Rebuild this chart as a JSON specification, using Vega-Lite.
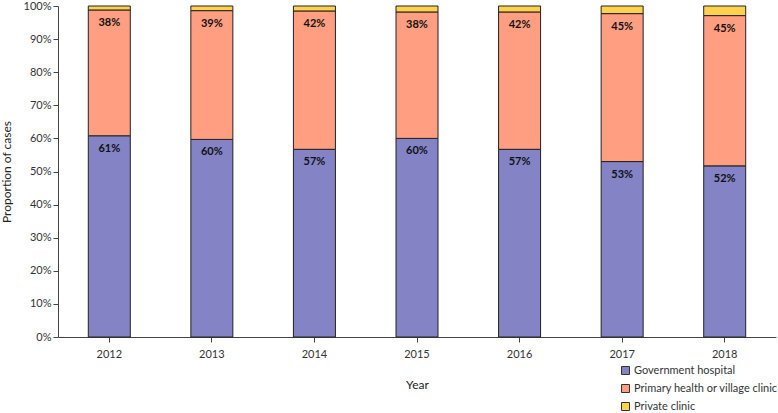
{
  "$schema": "https://vega.github.io/schema/vega-lite/v6.json",
  "autosize": "none",
  "width": 718,
  "height": 331,
  "padding": {"left": 58, "top": 6, "right": 2, "bottom": 76},
  "config": {
    "font": "Lato",
    "view": {"stroke": null},
    "axis": {"labelFont": "Lato", "titleFont": "Lato", "labelColor": "#333", "titleColor": "#222", "domainColor": "#444", "tickColor": "#444", "labelFontSize": 11, "titleFontSize": 12, "titleFontWeight": "normal"}
  },
  "data": {
    "values": [
      {"year": "2012", "source": "Government hospital", "order": 1, "value": 0.608},
      {"year": "2012", "source": "Primary health or village clinic", "order": 2, "value": 0.380},
      {"year": "2012", "source": "Private clinic", "order": 3, "value": 0.012},
      {"year": "2013", "source": "Government hospital", "order": 1, "value": 0.597},
      {"year": "2013", "source": "Primary health or village clinic", "order": 2, "value": 0.389},
      {"year": "2013", "source": "Private clinic", "order": 3, "value": 0.014},
      {"year": "2014", "source": "Government hospital", "order": 1, "value": 0.567},
      {"year": "2014", "source": "Primary health or village clinic", "order": 2, "value": 0.418},
      {"year": "2014", "source": "Private clinic", "order": 3, "value": 0.015},
      {"year": "2015", "source": "Government hospital", "order": 1, "value": 0.600},
      {"year": "2015", "source": "Primary health or village clinic", "order": 2, "value": 0.382},
      {"year": "2015", "source": "Private clinic", "order": 3, "value": 0.018},
      {"year": "2016", "source": "Government hospital", "order": 1, "value": 0.567},
      {"year": "2016", "source": "Primary health or village clinic", "order": 2, "value": 0.415},
      {"year": "2016", "source": "Private clinic", "order": 3, "value": 0.018},
      {"year": "2017", "source": "Government hospital", "order": 1, "value": 0.530},
      {"year": "2017", "source": "Primary health or village clinic", "order": 2, "value": 0.447},
      {"year": "2017", "source": "Private clinic", "order": 3, "value": 0.023},
      {"year": "2018", "source": "Government hospital", "order": 1, "value": 0.517},
      {"year": "2018", "source": "Primary health or village clinic", "order": 2, "value": 0.454},
      {"year": "2018", "source": "Private clinic", "order": 3, "value": 0.029}
    ]
  },
  "transform": [
    {"stack": "value", "groupby": ["year"], "sort": [{"field": "order", "order": "ascending"}], "as": ["y0", "y1"]}
  ],
  "encoding": {
    "x": {"field": "year", "type": "nominal", "title": "Year", "scale": {"paddingInner": 0.59, "paddingOuter": 0.295},
          "axis": {"labelAngle": 0, "labelPadding": 6, "tickSize": 5, "titlePadding": 20, "domainWidth": 1}}
  },
  "layer": [
    {
      "mark": {"type": "bar", "stroke": "#222", "strokeWidth": 1, "width": 42},
      "encoding": {
        "y": {"field": "y0", "type": "quantitative", "title": "Proportion of cases",
              "scale": {"domain": [0, 1]},
              "axis": {"format": ".0%", "values": [0, 0.1, 0.2, 0.3, 0.4, 0.5, 0.6, 0.7, 0.8, 0.9, 1.0], "labelOverlap": false, "grid": false, "tickSize": 5, "titlePadding": 10}},
        "y2": {"field": "y1"},
        "color": {"field": "source", "type": "nominal",
                  "scale": {"domain": ["Government hospital", "Primary health or village clinic", "Private clinic"], "range": ["#8383C6", "#FF9E80", "#FFD24D"]},
                  "legend": {"title": null, "orient": "none", "legendX": 562, "legendY": 359, "symbolType": "square", "symbolSize": 64, "symbolStrokeColor": "#333", "symbolStrokeWidth": 1, "labelFontSize": 11, "labelColor": "#333", "rowPadding": 5, "labelOffset": 3, "labelFont": "Lato"}},
        "order": {"field": "order", "type": "quantitative"}
      }
    },
    {
      "transform": [{"filter": "datum.order < 3"}],
      "mark": {"type": "text", "fontWeight": "bold", "fontSize": 11, "dy": 13, "color": "#111", "font": "Lato"},
      "encoding": {
        "y": {"field": "y1", "type": "quantitative", "title": "Proportion of cases",
              "axis": {"format": ".0%", "values": [0, 0.1, 0.2, 0.3, 0.4, 0.5, 0.6, 0.7, 0.8, 0.9, 1.0], "labelOverlap": false, "grid": false, "tickSize": 5, "titlePadding": 10}},
        "text": {"field": "value", "type": "quantitative", "format": ".0%"}
      }
    }
  ]
}
